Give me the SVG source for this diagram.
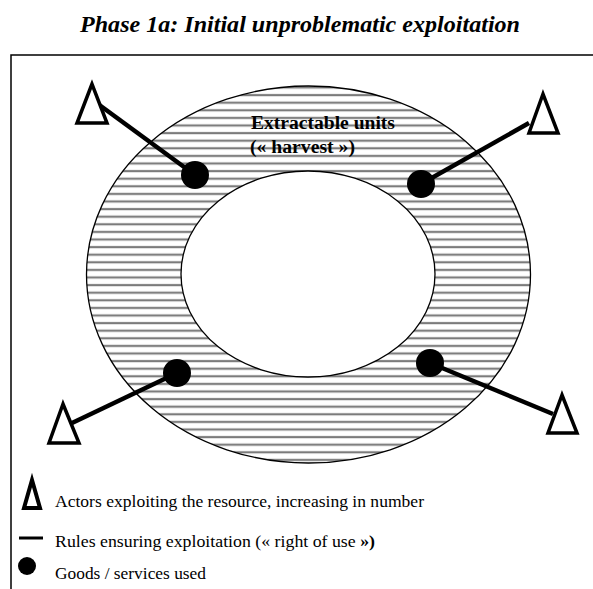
<svg xmlns="http://www.w3.org/2000/svg" width="593" height="589" viewBox="0 0 593 589">
<style>
.t{font-family:"Liberation Serif","Times New Roman",serif;fill:#000}
.tri{fill:#fff;stroke:#000;stroke-width:3.5;stroke-linejoin:miter}
.rule{stroke:#000;stroke-width:4.5;stroke-linecap:butt}
.dot{fill:#000}
</style>
<defs>
<pattern id="hatch" patternUnits="userSpaceOnUse" x="0" y="0" width="10" height="7.6">
<rect width="10" height="7.6" fill="#fff"/>
<rect y="2.7" width="10" height="2.4" fill="#aaa"/>
<rect y="3.3" width="10" height="1.2" fill="#666"/>
</pattern>
</defs>
<rect width="593" height="589" fill="#fff"/>
<text class="t" x="80" y="32" font-size="24" font-weight="bold" font-style="italic" textLength="440" lengthAdjust="spacingAndGlyphs">Phase 1a: Initial unproblematic exploitation</text>
<path d="M11,589 V55 H593" fill="none" stroke="#000" stroke-width="1.5"/>
<g id="resource">
<path d="M86.5,274.5 a222,188.5 0 1,0 444,0 a222,188.5 0 1,0 -444,0 Z M181,274 a127,103 0 1,1 254,0 a127,103 0 1,1 -254,0 Z" fill="url(#hatch)" fill-rule="evenodd" stroke="#000" stroke-width="1.3"/>
<text class="t" font-size="18.5" font-weight="bold"><tspan x="251" y="129" textLength="144" lengthAdjust="spacingAndGlyphs">Extractable units</tspan><tspan x="250" y="153" textLength="105" lengthAdjust="spacingAndGlyphs">(« harvest »)</tspan></text>
</g>
<g id="connectors">
<line class="rule" x1="98" y1="104" x2="195" y2="175"/>
<line class="rule" x1="529" y1="123" x2="421" y2="184"/>
<line class="rule" x1="72" y1="423" x2="177" y2="373"/>
<line class="rule" x1="553" y1="414" x2="430" y2="363"/>
</g>
<g id="actor-tl"><polygon class="tri" points="92,84 77,123 107,123"/></g>
<g id="actor-tr"><polygon class="tri" points="543,94 529,133 558,133"/></g>
<g id="actor-bl"><polygon class="tri" points="63,404 49,443 79,443"/></g>
<g id="actor-br"><polygon class="tri" points="562,395 548,433 577,433"/></g>
<g id="good-tl"><circle class="dot" cx="195" cy="175" r="14"/></g>
<g id="good-tr"><circle class="dot" cx="421" cy="184" r="14"/></g>
<g id="good-bl"><circle class="dot" cx="177" cy="373" r="14"/></g>
<g id="good-br"><circle class="dot" cx="430" cy="363" r="14"/></g>
<g id="legend">
<polygon points="32,480 24,508 40,508" fill="#fff" stroke="#000" stroke-width="4"/>
<text class="t" x="55" y="507" font-size="17.5" textLength="369" lengthAdjust="spacingAndGlyphs">Actors exploiting the resource, increasing in number</text>
<line x1="19" y1="538" x2="43" y2="538" stroke="#000" stroke-width="3"/>
<text class="t" x="55" y="547" font-size="17.5" textLength="320" lengthAdjust="spacingAndGlyphs">Rules ensuring exploitation (« right of use <tspan font-weight="bold">»)</tspan></text>
<circle cx="27" cy="566" r="9" fill="#000"/>
<text class="t" x="55" y="579" font-size="17.5" textLength="151" lengthAdjust="spacingAndGlyphs">Goods / services used</text>
</g>
</svg>
